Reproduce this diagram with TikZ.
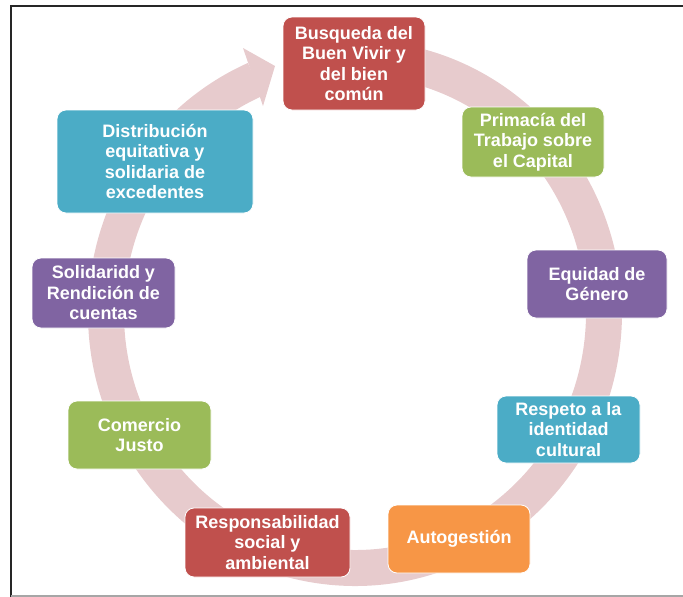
\documentclass[tikz,border=0pt]{standalone}
\usepackage{fontspec}
\setmainfont{Liberation Sans}
\definecolor{ringc}{HTML}{E7CBCD}
\definecolor{cred}{HTML}{C0504D}
\definecolor{cgreen}{HTML}{9BBB59}
\definecolor{cpurple}{HTML}{8064A2}
\definecolor{caqua}{HTML}{4BACC6}
\definecolor{corange}{HTML}{F79646}
\begin{document}
\begin{tikzpicture}[x=1pt,y=-1pt,
  box/.style={rounded corners=9pt, draw=white, line width=0.8pt, text=white,
    font=\bfseries\fontsize{18}{20.5}\selectfont, align=center, inner sep=0pt},
  frameline/.style={line width=2pt, black!85}]
\useasboundingbox (0,0) rectangle (683,597);
% frame
\draw[frameline] (10,5.5) -- (683,5.5);
\draw[frameline] (11,5) -- (11,597);
\draw[line width=1.5pt, black!35] (11,596.2) -- (683,596.2);
% cycle ring
\draw[ringc, line width=36pt] ([shift={(-85:249 and 255)}]355,313)
  arc[start angle=-85, end angle=246.4, x radius=249, y radius=255];
\fill[ringc] (243,48) -- (275,66) -- (263,106) -- cycle;
% boxes
\node[box, fill=cred, minimum width=142, minimum height=93] (b1) at (354,63.5) {Busqueda del\\Buen Vivir y\\del bien\\común};
\node[box, fill=cgreen, minimum width=142, minimum height=70] (b2) at (533,142) {Primacía del\\Trabajo sobre\\el Capital};
\node[box, fill=cpurple, minimum width=140, minimum height=68] (b3) at (597,284) {Equidad de\\Género};
\node[box, fill=caqua, minimum width=143, minimum height=67] (b4) at (568.5,429.5) {Respeto a la\\identidad\\cultural};
\node[box, fill=corange, minimum width=142, minimum height=68] (b5) at (459,539) {Autogestión};
\node[box, fill=cred, minimum width=165, minimum height=69] (b6) at (267.5,542.5) {Responsabilidad\\social y\\ambiental};
\node[box, fill=cgreen, minimum width=143, minimum height=68] (b7) at (139.5,435) {Comercio\\Justo};
\node[box, fill=cpurple, minimum width=143, minimum height=70] (b8) at (103.5,293) {Solidaridd y\\Rendición de\\cuentas};
\node[box, fill=caqua, minimum width=196, minimum height=103] (b9) at (155,161.5) {Distribución\\equitativa y\\solidaria de\\excedentes};
\end{tikzpicture}
\end{document}
